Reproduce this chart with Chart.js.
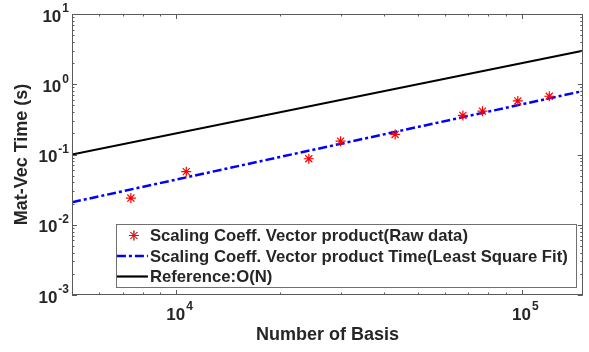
<!DOCTYPE html>
<html>
<head>
<meta charset="utf-8">
<script src="https://cdn.jsdelivr.net/npm/chart.js@4.4.1/dist/chart.umd.min.js"></script>
<style>
  html, body { margin: 0; padding: 0; background: #fff; }
  #wrap { width: 589px; height: 352px; }
</style>
</head>
<body>
<div id="wrap"><canvas id="chart" width="589" height="352"></canvas></div>
<script>
const rawBasis = [7400, 10700, 24200, 29900, 43000, 67500, 76900, 97300, 120000];
const rawTime = [0.024, 0.057, 0.087, 0.155, 0.193, 0.36, 0.414, 0.578, 0.675];

// least square fit line, end points
const fitBasis = [5000, 150000];
const fitTime = [0.0209, 0.80];

// O(N) reference line
const refBasis = [5000, 150000];
const refTime = [0.1, 3.0];

const seriesLabels = [
  "Scaling Coeff. Vector product(Raw data)",
  "Scaling Coeff. Vector product Time(Least Square Fit)",
  "Reference:O(N)"
];

// axis ticks
const xMajor = [10000, 100000];
const xMajorExp = ["4", "5"];
const xMinor = [6000, 7000, 8000, 9000, 20000, 30000, 40000, 50000, 60000, 70000, 80000, 90000];
const yMajor = [0.001, 0.01, 0.1, 1, 10];
const yMajorExp = ["-3", "-2", "-1", "0", "1"];
const yMinorMant = [2, 3, 4, 5, 6, 7, 8, 9];
const yDecades = [0.001, 0.01, 0.1, 1];

const textColor = "#262626";
const boxColor = "#5a5a5a";
const font = '"Liberation Sans", Arial, Helvetica, sans-serif';
const legendFont = "bold 16.7px " + font;

const toPoints = (xs, ys) => xs.map((x, i) => ({ x: x, y: ys[i] }));

function drawPower(ctx, exp, x, y, align) {
  // "10" with a raised exponent, y = vertical middle of "10"
  ctx.font = "bold 17px " + font;
  const wb = ctx.measureText("10").width;
  ctx.font = "bold 12px " + font;
  const we = ctx.measureText(exp).width;
  let left;
  if (align === "right") left = x - wb - we;
  else left = x - (wb + we) / 2;
  ctx.fillStyle = textColor;
  ctx.textBaseline = "middle";
  ctx.textAlign = "left";
  ctx.font = "bold 17px " + font;
  ctx.fillText("10", left, y);
  ctx.font = "bold 12px " + font;
  ctx.fillText(exp, left + wb + 1, y - 8);
}

const matlabAxes = {
  id: "matlabAxes",
  afterDatasetsDraw(chart) {
    const { ctx, chartArea: a, scales } = chart;
    const xs = scales.x, ys = scales.y;
    ctx.save();

    // ticks, inside on all four sides
    ctx.strokeStyle = boxColor;
    ctx.lineWidth = 1;
    ctx.beginPath();
    const xTick = (v, len) => {
      const px = Math.round(xs.getPixelForValue(v)) + 0.5;
      ctx.moveTo(px, a.bottom); ctx.lineTo(px, a.bottom - len);
      ctx.moveTo(px, a.top); ctx.lineTo(px, a.top + len);
    };
    const yTick = (v, len) => {
      const py = Math.round(ys.getPixelForValue(v)) + 0.5;
      ctx.moveTo(a.left, py); ctx.lineTo(a.left + len, py);
      ctx.moveTo(a.right, py); ctx.lineTo(a.right - len, py);
    };
    xMajor.forEach(v => xTick(v, 5));
    xMinor.forEach(v => xTick(v, 2.5));
    yMajor.forEach(v => yTick(v, 5));
    yDecades.forEach(d => yMinorMant.forEach(m => yTick(d * m, 2.5)));
    ctx.stroke();

    // box
    ctx.strokeRect(Math.round(a.left) + 0.5, Math.round(a.top) + 0.5,
      Math.round(a.right - a.left) - 1, Math.round(a.bottom - a.top) - 1);

    // tick labels
    yMajor.forEach((v, i) => drawPower(ctx, yMajorExp[i], a.left - 4, ys.getPixelForValue(v) + 3, "right"));
    xMajor.forEach((v, i) => drawPower(ctx, xMajorExp[i], xs.getPixelForValue(v) + 3, a.bottom + 20, "center"));

    // legend, lower right inside the axes
    ctx.font = legendFont;
    let tw = 0;
    seriesLabels.forEach(t => { tw = Math.max(tw, ctx.measureText(t).width); });
    const rowH = 20.5;
    const right = a.right - 7, bottom = a.bottom - 9;
    const left = right - 34 - tw - 8;
    const top = bottom - rowH * 3 - 1;
    ctx.fillStyle = "#fff";
    ctx.fillRect(left, top, right - left, bottom - top);
    ctx.strokeStyle = "#707070";
    ctx.strokeRect(Math.round(left) + 0.5, Math.round(top) + 0.5, Math.round(right - left), Math.round(bottom - top));
    chart.data.datasets.forEach((ds, i) => {
      const cy = top + 12 + i * rowH;
      if (ds.showLine) {
        ctx.strokeStyle = ds.borderColor;
        ctx.lineWidth = ds.borderWidth;
        ctx.setLineDash(ds.borderDash || []);
        ctx.beginPath();
        ctx.moveTo(left + 1, cy); ctx.lineTo(left + 32, cy);
        ctx.stroke();
        ctx.setLineDash([]);
      } else {
        Chart.helpers.drawPoint(ctx, { pointStyle: ds.pointStyle, radius: ds.pointRadius, borderWidth: 1 }, left + 18, cy);
        ctx.strokeStyle = ds.pointBorderColor;
        ctx.lineWidth = 1;
        ctx.stroke();
      }
      ctx.fillStyle = textColor;
      ctx.font = legendFont;
      ctx.textAlign = "left";
      ctx.textBaseline = "middle";
      ctx.fillText(ds.label, left + 34, cy + 1);
    });
    ctx.restore();
  }
};

new Chart(document.getElementById("chart"), {
  type: "scatter",
  data: {
    datasets: [
      {
        label: seriesLabels[0],
        data: toPoints(rawBasis, rawTime),
        pointStyle: "star",
        pointRadius: 5,
        pointBorderColor: "#ff0000",
        pointBackgroundColor: "#ff0000",
        pointBorderWidth: 1.2,
        showLine: false
      },
      {
        label: seriesLabels[1],
        data: toPoints(fitBasis, fitTime),
        showLine: true,
        borderColor: "#0000ff",
        borderWidth: 2.5,
        borderDash: [9, 3, 3, 3],
        pointRadius: 0
      },
      {
        label: seriesLabels[2],
        data: toPoints(refBasis, refTime),
        showLine: true,
        borderColor: "#000000",
        borderWidth: 2.2,
        pointRadius: 0
      }
    ]
  },
  options: {
    responsive: false,
    animation: false,
    events: [],
    layout: { padding: { top: 14, right: 6, left: 0, bottom: 0 } },
    plugins: { legend: { display: false }, tooltip: { enabled: false } },
    scales: {
      x: {
        type: "logarithmic",
        min: 5000,
        max: 150000,
        grid: { display: false },
        border: { display: false },
        ticks: { display: false },
        afterFit: s => { s.height = 57; },
        title: {
          display: true,
          text: "Number of Basis",
          color: textColor,
          font: { family: font, size: 18, weight: "bold" },
          padding: { top: 0, bottom: 6 }
        }
      },
      y: {
        type: "logarithmic",
        min: 0.001,
        max: 10,
        grid: { display: false },
        border: { display: false },
        ticks: { display: false },
        afterFit: s => { s.width = 72; },
        title: {
          display: true,
          text: "Mat-Vec Time (s)",
          color: textColor,
          font: { family: font, size: 18, weight: "bold" },
          padding: { top: 11, bottom: 0 }
        }
      }
    }
  },
  plugins: [matlabAxes]
});
</script>
</body>
</html>
